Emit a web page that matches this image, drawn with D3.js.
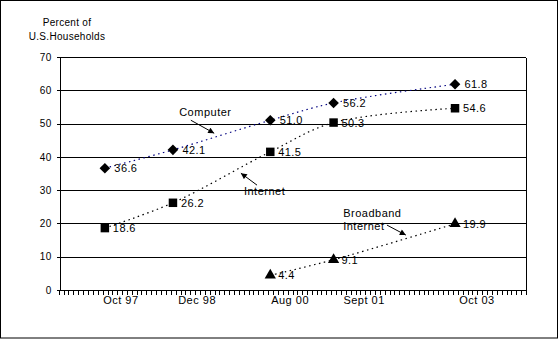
<!DOCTYPE html>
<html>
<head>
<meta charset="utf-8">
<script src="https://cdn.jsdelivr.net/npm/d3@7/dist/d3.min.js"></script>
<style>
  html, body { margin: 0; padding: 0; background: #fff; }
  svg { display: block; }
  text { font-family: "Liberation Sans", Arial, sans-serif; fill: #000; }
</style>
</head>
<body>
<svg id="chart" width="560" height="339"></svg>
<script>
// survey dates (mid-month)
var dates = [new Date(1997, 9, 15), new Date(1998, 11, 15), new Date(2000, 7, 15),
             new Date(2001, 8, 15), new Date(2003, 9, 15)];
var computer = [36.6, 42.1, 51.0, 56.2, 61.8];
var internet = [18.6, 26.2, 41.5, 50.3, 54.6];
var broadband = [null, null, 4.4, 9.1, 19.9];

var yTicks = [0, 10, 20, 30, 40, 50, 60, 70];
var xLabels = ["Oct 97", "Dec 98", "Aug 00", "Sept 01", "Oct 03"];
// label centres, months after Jan 1997
var xLabelMonths = [12.7, 28.4, 47.5, 62.7, 85.9];

// callouts, in (months after Jan 1997, percent)
var callouts = [
    {lines: ["Computer"], at: [24.7, 52.2], from: [27.1, 51.0], to: [31.9, 47.1]},
    {lines: ["Internet"], at: [38.0, 28.5], from: [40.7, 31.5], to: [37.4, 35.1]},
    {lines: ["Broadband", "Internet"], at: [58.4, 21.9], from: [67.4, 19.5], to: [71.3, 16.5]}
];

(function () {
    function monthDate(m) {
        return new Date(1997, 0, 1 + Math.round(m * 30.44));
    }

    var svg = d3.select('#chart');
    var pLeft = 59, pRight = 526, pTop = 57, pBottom = 290;

    var x = d3.scaleTime().domain([new Date(1997, 0, 1), new Date(2005, 0, 1)]).range([pLeft, pRight]);
    var y = d3.scaleLinear().domain([0, 70]).range([pBottom, pTop]);

    // outer frame
    svg.append('rect')
        .attr('x', 0.5).attr('y', 0.5).attr('width', 557).attr('height', 337.5)
        .attr('fill', '#fff').attr('stroke', '#000');

    // header
    svg.append('text').attr('x', 67).attr('y', 26).attr('text-anchor', 'middle')
        .style('font-size', '10px').style('letter-spacing', '0.3px').text('Percent of');
    svg.append('text').attr('x', 67).attr('y', 40).attr('text-anchor', 'middle')
        .style('font-size', '10px').style('letter-spacing', '0.3px').text('U.S.Households');

    // grid lines
    svg.append('g').selectAll('line')
        .data(yTicks.filter(function (d) { return d > 0; }))
        .enter().append('line')
        .attr('x1', pLeft).attr('x2', pRight)
        .attr('y1', function (d) { return Math.round(y(d)) + 0.5; })
        .attr('y2', function (d) { return Math.round(y(d)) + 0.5; })
        .attr('stroke', '#000').attr('shape-rendering', 'crispEdges');

    // right border of plot
    svg.append('line')
        .attr('x1', pRight + 0.5).attr('x2', pRight + 0.5)
        .attr('y1', Math.round(y(70)) + 0.5).attr('y2', pBottom + 0.5)
        .attr('stroke', '#000').attr('shape-rendering', 'crispEdges');

    // y axis
    var yAxis = svg.append('g')
        .attr('transform', 'translate(' + (pLeft + 0.5) + ',0)')
        .call(d3.axisLeft(y).tickValues(yTicks).tickSize(3).tickPadding(5).tickFormat(d3.format('d')));
    yAxis.selectAll('text').style('font-size', '10px').style('letter-spacing', '0.3px')
        .style('font-family', '"Liberation Sans", Arial, sans-serif');

    // x axis with monthly ticks
    var xAxis = svg.append('g')
        .attr('transform', 'translate(0,' + (pBottom + 0.5) + ')')
        .call(d3.axisBottom(x).ticks(d3.timeMonth.every(1)).tickSize(4).tickFormat(''));
    xAxis.select('.domain').attr('d', 'M' + pLeft + ',0H' + pRight);
    svg.selectAll('.domain, .tick line').attr('stroke', '#000').attr('shape-rendering', 'crispEdges');

    svg.append('g').selectAll('text')
        .data(xLabels)
        .enter().append('text')
        .attr('x', function (d, i) { return x(monthDate(xLabelMonths[i])); })
        .attr('y', 304)
        .attr('text-anchor', 'middle')
        .style('font-size', '11px').style('letter-spacing', '0.5px')
        .text(function (d) { return d; });

    // series
    var series = [
        {name: 'Computer', values: computer, color: '#000080', shape: 'diamond', off: 9.5},
        {name: 'Internet', values: internet, color: '#000', shape: 'square', off: 8},
        {name: 'Broadband', values: broadband, color: '#000', shape: 'triangle', off: 8}
    ];

    var line = d3.line()
        .x(function (d) { return x(d.date); })
        .y(function (d) { return y(d.v); })
        .curve(d3.curveCatmullRom.alpha(0.5));

    series.forEach(function (s) {
        var pts = s.values.map(function (v, i) { return {date: dates[i], v: v}; })
            .filter(function (d) { return d.v != null; });

        svg.append('path')
            .datum(pts)
            .attr('d', line)
            .attr('fill', 'none')
            .attr('stroke', s.color)
            .attr('stroke-width', 1.2)
            .attr('stroke-dasharray', '1.5,3.5');

        var sym;
        if (s.shape === 'diamond') sym = d3.symbol(d3.symbolSquare, 56);
        else if (s.shape === 'square') sym = d3.symbol(d3.symbolSquare, 72);
        else sym = d3.symbol(d3.symbolTriangle, 55);

        var g = svg.append('g');
        g.selectAll('path')
            .data(pts)
            .enter().append('path')
            .attr('d', sym)
            .attr('fill', '#000')
            .attr('transform', function (d) {
                return 'translate(' + x(d.date) + ',' + y(d.v) + ')' + (s.shape === 'diamond' ? ' rotate(45)' : '');
            });

        g.selectAll('text')
            .data(pts)
            .enter().append('text')
            .attr('x', function (d) { return x(d.date) + s.off; })
            .attr('y', function (d) { return y(d.v); })
            .attr('dy', '0.36em')
            .style('font-size', '11px').style('letter-spacing', '0.4px')
            .text(function (d) { return d.v.toFixed(1); });
    });

    // callouts
    svg.append('defs').append('marker')
        .attr('id', 'head')
        .attr('viewBox', '0 0 10 10')
        .attr('refX', 10).attr('refY', 5)
        .attr('markerWidth', 7).attr('markerHeight', 6)
        .attr('markerUnits', 'userSpaceOnUse')
        .attr('orient', 'auto')
        .append('path').attr('d', 'M0,0L10,5L0,10z').attr('fill', '#000');

    callouts.forEach(function (c) {
        var cx = x(monthDate(c.at[0]));
        var t = svg.append('text')
            .attr('x', cx)
            .attr('y', y(c.at[1]))
            .style('font-size', '11px').style('letter-spacing', '0.5px');
        c.lines.forEach(function (l, i) {
            t.append('tspan').attr('x', cx).attr('dy', i ? 12.5 : 0).text(l);
        });
        svg.append('line')
            .attr('x1', x(monthDate(c.from[0]))).attr('y1', y(c.from[1]))
            .attr('x2', x(monthDate(c.to[0]))).attr('y2', y(c.to[1]))
            .attr('stroke', '#000').attr('stroke-width', 1)
            .attr('marker-end', 'url(#head)');
    });
})();
</script>
</body>
</html>
